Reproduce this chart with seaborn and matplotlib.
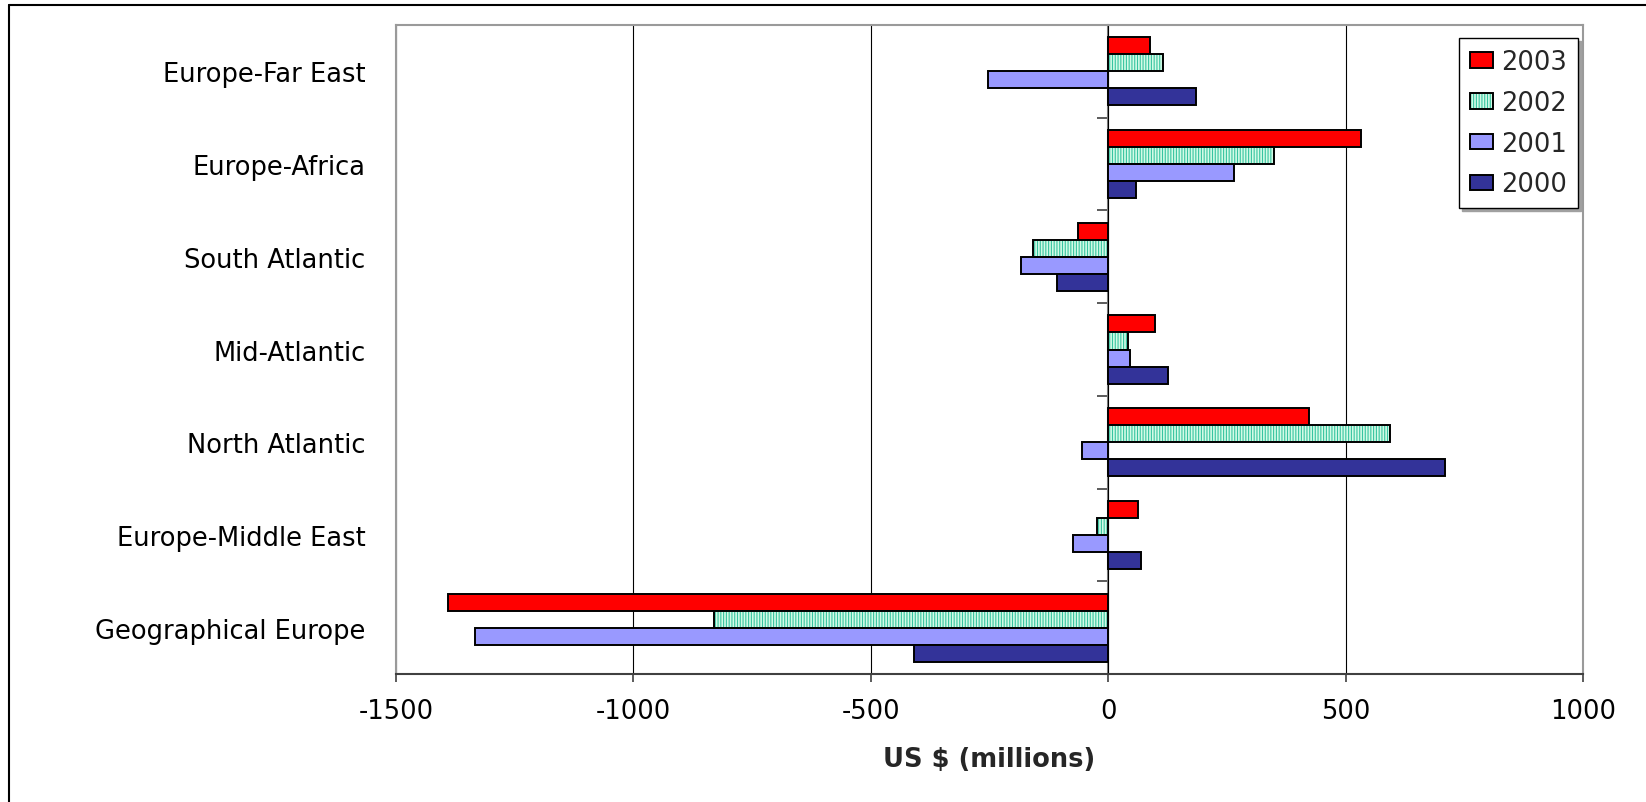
import numpy as np
import pandas as pd
import matplotlib
matplotlib.use("Agg")
import matplotlib.pyplot as plt
import seaborn as sns
from matplotlib.patches import Rectangle, Patch
from matplotlib.lines import Line2D

# ---------------- data ----------------
regions = ["Europe-Far East", "Europe-Africa", "South Atlantic", "Mid-Atlantic",
           "North Atlantic", "Europe-Middle East", "Geographical Europe"]
years = ["2003", "2002", "2001", "2000"]
v2003 = [88, 533, -63, 98, 423, 63, -1390]
v2002 = [116, 350, -159, 41, 594, -23, -831]
v2001 = [-253, 265, -183, 46, -56, -75, -1333]
v2000 = [185, 59, -108, 127, 710, 69, -409]
x_ticks = [-1500, -1000, -500, 0, 500, 1000]
x_label = "US $ (millions)"

series = {"2003": v2003, "2002": v2002, "2001": v2001, "2000": v2000}
df = pd.DataFrame([(r, y, series[y][i]) for y in years for i, r in enumerate(regions)],
                  columns=["region", "year", "value"])

colors = {"2003": "#FF0000", "2002": "#d3fbe6", "2001": "#9999FF", "2000": "#333399"}
hatch_color = "#36c4a0"
FS = 18.5

# ---------------- style ----------------
sns.set_theme(style="white")
plt.rcParams["font.family"] = ["DejaVu Sans"]
plt.rcParams["axes.unicode_minus"] = False
plt.rcParams["hatch.linewidth"] = 0.8

fig = plt.figure(figsize=(16.46, 8.03), dpi=100)
ax = fig.add_axes([0.2406, 0.1594, 0.7211, 0.8082])

sns.barplot(data=df, y="region", x="value", hue="year", order=regions,
            hue_order=years, palette=colors, orient="h", width=0.735,
            edgecolor="black", linewidth=1.4, saturation=1, errorbar=None,
            legend=False, ax=ax)

# striped pattern for 2002
for p in ax.containers[1]:
    p.set_hatch("||||||")
    p.set_edgecolor(hatch_color)
    p.set_linewidth(0)
    ax.add_patch(Rectangle(p.get_xy(), p.get_width(), p.get_height(),
                           fill=False, edgecolor="black", linewidth=1.4,
                           zorder=p.get_zorder() + 0.1))

ax.set_xlim(x_ticks[0], x_ticks[-1])
ax.set_xticks(x_ticks)
ax.set_xticklabels([str(t) for t in x_ticks])
ax.grid(axis="x", color="black", linewidth=0.8)
ax.grid(axis="y", visible=False)
ax.set_axisbelow(True)

for s in ["left", "top", "right"]:
    ax.spines[s].set_color("#9a9a9a")
    ax.spines[s].set_linewidth(1.5)
ax.spines["bottom"].set_color("#404040")
ax.spines["bottom"].set_linewidth(1.5)

ax.tick_params(axis="x", length=6, width=1.2, color="#404040", direction="out",
               pad=11, labelsize=FS, labelcolor="black", bottom=True)
ax.tick_params(axis="y", length=0, pad=22, labelsize=FS, labelcolor="black")
ax.set_ylabel("")
ax.set_xlabel(x_label, fontsize=FS, fontweight="bold", labelpad=16)

# category axis crossing at zero, with ticks between categories
lo, hi = ax.get_xlim()
sec = ax.secondary_yaxis((0 - lo) / (hi - lo))
sec.set_alignment("left")
sec.set_yticks(np.arange(len(regions) + 1) - 0.5)
sec.set_yticklabels([])
sec.tick_params(axis="y", length=8, width=1.2, color="#404040",
                labelleft=False, labelright=False, direction="out")
sec.spines["left"].set_color("#808080")
sec.spines["left"].set_linewidth(1.5)

# legend
handles = []
for y in years:
    if y == "2002":
        handles.append((Patch(facecolor=colors[y], edgecolor=hatch_color, hatch="||||||", linewidth=0),
                        Patch(fill=False, edgecolor="black", linewidth=1.4)))
    else:
        handles.append(Patch(facecolor=colors[y], edgecolor="black", linewidth=1.4))
leg = ax.legend(handles, years, loc="upper right", bbox_to_anchor=(0.9958, 0.980),
                frameon=True, fancybox=False, shadow={"color": "#a0a0a0", "alpha": 1},
                edgecolor="black", fontsize=FS, handlelength=0.87, handleheight=0.57,
                labelspacing=0.58, borderpad=0.42, handletextpad=0.34, borderaxespad=0)
leg.get_frame().set_linewidth(1.0)

# outer chart border (left and top edges visible)
fig.add_artist(Line2D([9 / 1646, 9 / 1646], [0, 1 - 6 / 803], transform=fig.transFigure,
                      color="black", linewidth=1.5))
fig.add_artist(Line2D([9 / 1646, 1], [1 - 6 / 803, 1 - 6 / 803], transform=fig.transFigure,
                      color="black", linewidth=1.5))

fig.savefig("out.png", dpi=100, facecolor="white")
